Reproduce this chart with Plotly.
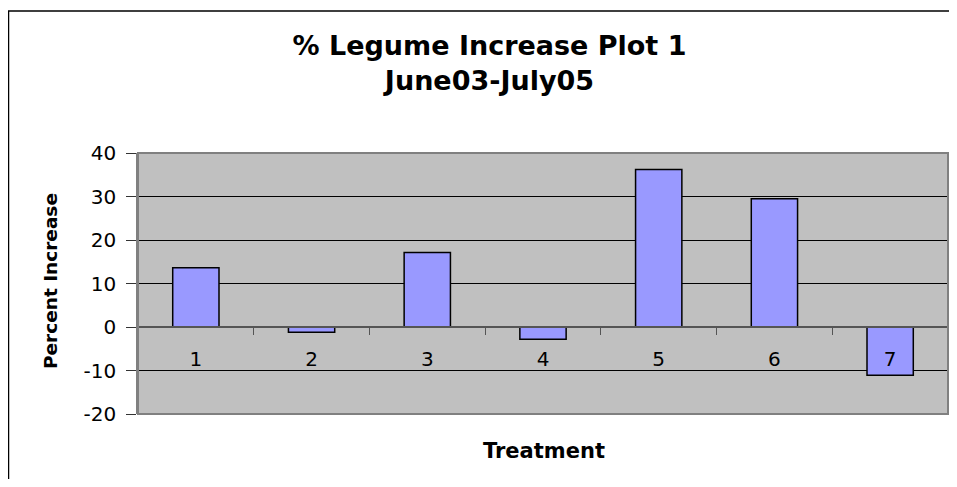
import plotly.graph_objects as go

treatments = ["1", "2", "3", "4", "5", "6", "7"]
percent_increase = [13.6, -1.2, 17.1, -2.8, 36.2, 29.5, -11.1]
y_ticks = [-20, -10, 0, 10, 20, 30, 40]
y_tick_text = ["-20", "-10", "0", "10", "20", "30", "40"]

# the page body has an 8px margin, so the figure sits at (8, 8) in the window;
# keep the figure small enough that no scrollbars appear
OFF = 8
W, H = 957 - 2 * OFF, 487 - 2 * OFF
PLOT_L, PLOT_R, PLOT_T, PLOT_B = 138, 948, 153, 414  # window pixels
ML = PLOT_L - OFF
MR = W - (PLOT_R - OFF)
MT = PLOT_T - OFF
MB = H - (PLOT_B - OFF)
pw, ph = W - ML - MR, H - MT - MB

def px_x(x):
    return (x - PLOT_L) / pw

def px_y(y):
    return (PLOT_B - y) / ph

fig = go.Figure()
fig.add_trace(go.Bar(
    x=treatments, y=percent_increase, width=0.4,
    marker=dict(color="#9999FF", line=dict(color="#000000", width=1.5)),
    showlegend=False,
))

ymin, ymax = -20, 40
fig.update_layout(
    width=W, height=H,
    margin=dict(l=ML, r=MR, t=MT, b=MB),
    paper_bgcolor="white",
    plot_bgcolor="#C0C0C0",
    font=dict(family="DejaVu Sans", color="black"),
    title=dict(
        text="<b>% Legume Increase Plot 1<br>June03-July05</b>",
        x=(489.5 - OFF) / W, xanchor="center", xref="container",
        y=1 - 47 / H, yanchor="middle", yref="container",
        font=dict(family="DejaVu Sans", size=27, color="black"),
    ),
    xaxis=dict(
        type="category",
        anchor="free",
        position=(0 - ymin) / (ymax - ymin),
        showline=True, linecolor="#555555", linewidth=1.5,
        ticks="outside", tickson="boundaries", ticklen=7,
        tickcolor="#555555", tickwidth=1,
        ticklabelstandoff=14,
        tickfont=dict(size=20, family="DejaVu Sans", color="black"),
        showgrid=False, zeroline=False,
    ),
    yaxis=dict(
        range=[ymin, ymax],
        tickvals=y_ticks, ticktext=y_tick_text,
        showline=True, linecolor="#808080", linewidth=1.5,
        ticks="outside", ticklen=10, tickcolor="#333333", tickwidth=1,
        ticklabelstandoff=6,
        tickfont=dict(size=20, family="DejaVu Sans", color="black"),
        showgrid=True, gridcolor="#000000", gridwidth=1,
        zeroline=False,
    ),
    bargap=0.6,
)

# plot area frame
fig.add_shape(type="rect", xref="paper", yref="paper", x0=0, y0=0, x1=1, y1=1,
              line=dict(color="#808080", width=2), layer="above")
# outer chart border: only its left and top edges are inside the picture
bx0, by0 = px_x(8.5), px_y(OFF + H)
bx1, by1 = px_x(OFF + W), px_y(11)
fig.add_shape(type="path", xref="paper", yref="paper",
              path=f"M {bx0},{by0} L {bx0},{by1} L {bx1},{by1}",
              line=dict(color="#000000", width=1.5), layer="below")

fig.add_annotation(text="<b>Percent Increase</b>", xref="paper", yref="paper",
                   x=px_x(50), y=px_y(281), textangle=-90, showarrow=False,
                   xanchor="center", yanchor="middle",
                   font=dict(family="DejaVu Sans", size=18.5, color="black"))
fig.add_annotation(text="<b>Treatment</b>", xref="paper", yref="paper",
                   x=px_x(543.5), y=px_y(450.5), showarrow=False,
                   xanchor="center", yanchor="middle",
                   font=dict(family="DejaVu Sans", size=21, color="black"))

fig.write_html("out.html")
